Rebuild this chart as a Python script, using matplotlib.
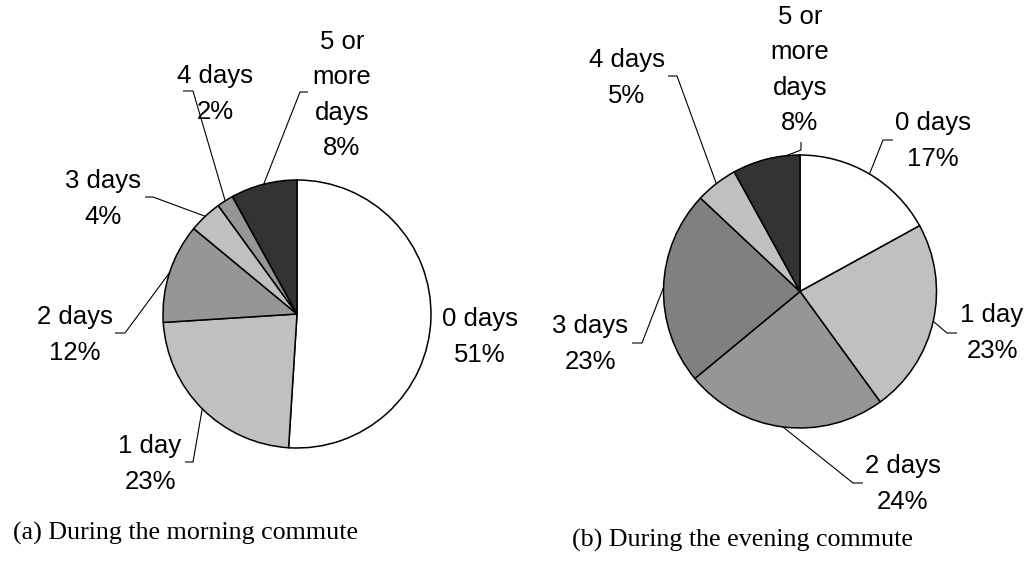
import numpy as np
import matplotlib
matplotlib.use('Agg')
import matplotlib.pyplot as plt

W, H = 1027, 564
plt.rcParams['font.family'] = ['Liberation Sans', 'DejaVu Sans']

# ── data ────────────────────────────────────────────────────────
categories = ['0 days', '1 day', '2 days', '3 days', '4 days', '5 or\nmore\ndays']
morning = [51, 23, 12, 4, 2, 8]
evening = [17, 23, 24, 23, 5, 8]
morning_colors = ['#ffffff', '#c0c0c0', '#969696', '#c0c0c0', '#969696', '#333333']
evening_colors = ['#ffffff', '#c0c0c0', '#969696', '#808080', '#c0c0c0', '#333333']
captions = ['(a) During the morning commute', '(b) During the evening commute']

# ── layout (pixel coords, y from top) ───────────────────────────
# per label: text centre, elbow, tail end, anchor fraction inside wedge
morning_layout = [
    ((480, 337), None, None, 0.5),
    ((150, 464), (193, 462), (185, 462), 0.5),
    ((75, 335), (125, 333), (115, 333), 0.5),
    ((103, 199), (153, 197), (145, 197), 0.5),
    ((215, 94), (193, 91), (183, 91), 0.5),
    ((342, 95), (300, 92), (308, 92), 0.5),
]
evening_layout = [
    ((933, 141), (883, 140), (893, 140), 0.5),
    ((992, 333), (947, 333), (957, 333), 0.5),
    ((903, 484), (853, 483), (863, 483), 0.5),
    ((590, 344), (642, 343), (632, 343), 0.5),
    ((627, 78), (677, 76), (668, 76), 0.5),
    ((800, 70), (801, 150), (801, 142), 0.8),
]

fig = plt.figure(figsize=(W / 100, H / 100), dpi=100)
ax = fig.add_axes([0, 0, 1, 1])


def draw_pie(vals, colors, center, radius, layout):
    cx, cy = center[0], H - center[1]
    wedges, _ = ax.pie(vals, colors=colors, startangle=90, counterclock=False,
                       center=(cx, cy), radius=radius,
                       wedgeprops=dict(edgecolor='black', linewidth=1.1))
    for w, cat, v, (txt, elbow, tail, frac) in zip(wedges, categories, vals, layout):
        ax.text(txt[0], H - txt[1], f'{cat}\n{v}%', ha='center', va='center',
                fontsize=18.5, linespacing=1.6, color='black')
        if elbow is None:
            continue
        ang = np.deg2rad(w.theta2 + (w.theta1 - w.theta2) * frac)
        sx, sy = cx + radius * np.cos(ang), cy + radius * np.sin(ang)
        ax.plot([sx, elbow[0], tail[0]], [sy, H - elbow[1], H - tail[1]],
                color='black', lw=0.8, solid_capstyle='butt')


draw_pie(morning, morning_colors, (297, 314), 134, morning_layout)
draw_pie(evening, evening_colors, (800, 291.5), 136.5, evening_layout)

ax.text(13, H - 533, captions[0], ha='left', va='center', fontsize=18.7,
        family=['Liberation Serif', 'DejaVu Serif'])
ax.text(572, H - 540, captions[1], ha='left', va='center', fontsize=18.7,
        family=['Liberation Serif', 'DejaVu Serif'])

ax.set_xlim(0, W)
ax.set_ylim(0, H)
ax.set_aspect('equal')
ax.axis('off')
fig.savefig('out.png', dpi=100, facecolor='white')
